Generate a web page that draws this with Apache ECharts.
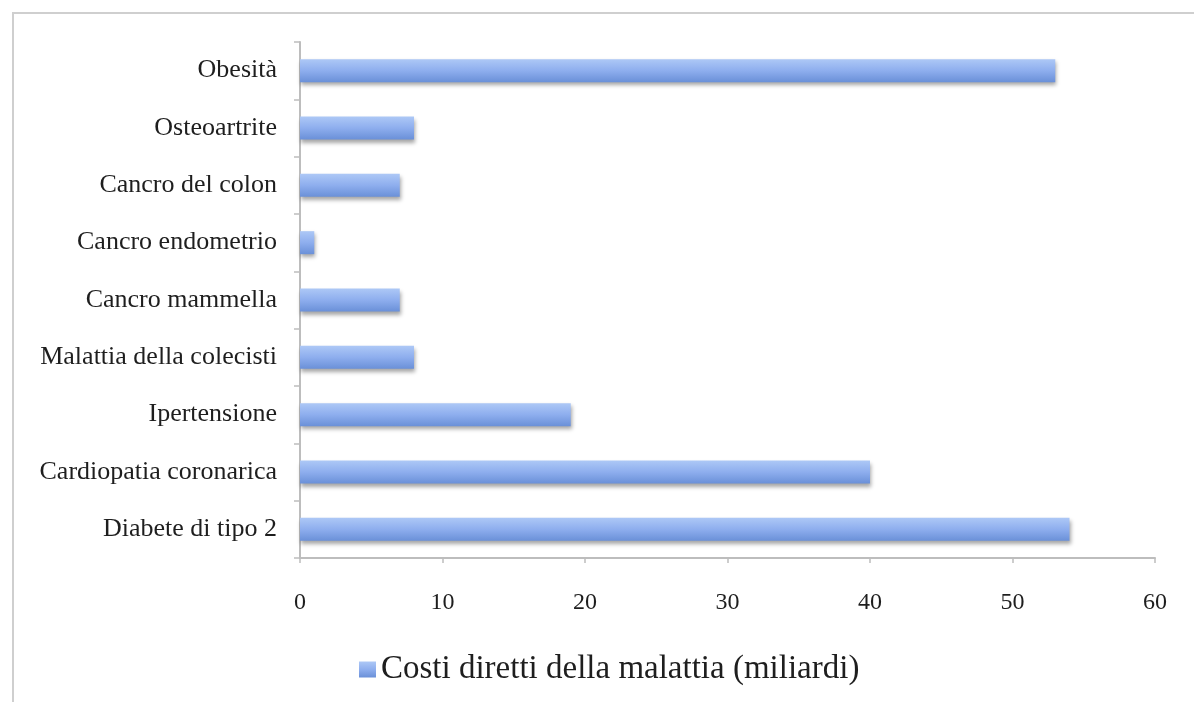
<!DOCTYPE html>
<html>
<head>
<meta charset="utf-8">
<script src="https://cdn.jsdelivr.net/npm/echarts@6/dist/echarts.min.js"></script>
<style>
html,body{margin:0;padding:0;background:#fff;}
#frame{position:absolute;left:12px;top:12px;width:1182px;height:690px;border-left:2px solid #cfcfcf;border-top:2px solid #cfcfcf;box-sizing:border-box;}
#chart{position:absolute;left:0;top:0;width:1194px;height:702px;}
</style>
</head>
<body>
<div id="frame"></div>
<div id="chart"></div>
<script>
var categories = ['Diabete di tipo 2','Cardiopatia coronarica','Ipertensione','Malattia della colecisti','Cancro mammella','Cancro endometrio','Cancro del colon','Osteoartrite','Obesità'];
var values = [54, 40, 19, 8, 7, 1, 7, 8, 53];
var seriesName = 'Costi diretti della malattia (miliardi)';
var xMin = 0, xMax = 60, xInterval = 10;

var chart = echarts.init(document.getElementById('chart'));
var font = 'Liberation Serif, Times New Roman, serif';
chart.setOption({
  animation: false,
  textStyle: {fontFamily: font},
  grid: {left: 300, right: 39, top: 42, bottom: 144, containLabel: false},
  legend: {
    data: [seriesName],
    bottom: 11,
    left: 354,
    itemWidth: 17,
    itemHeight: 16,
    itemGap: 6,
    textStyle: {fontFamily: font, fontSize: 33, color: '#1e1e1e'},
    icon: 'rect'
  },
  xAxis: {
    type: 'value',
    min: xMin, max: xMax, interval: xInterval,
    axisLine: {show: true, lineStyle: {color: '#bdbdbd', width: 2}},
    axisTick: {show: true, length: 5, lineStyle: {color: '#bdbdbd', width: 1.5}},
    splitLine: {show: false},
    axisLabel: {fontFamily: font, fontSize: 24, color: '#1e1e1e', margin: 33}
  },
  yAxis: {
    type: 'category',
    data: categories,
    axisLine: {show: true, lineStyle: {color: '#bdbdbd', width: 2}},
    axisTick: {show: true, length: 6, lineStyle: {color: '#bdbdbd', width: 1.5}},
    axisLabel: {fontFamily: font, fontSize: 26, color: '#1e1e1e', margin: 23}
  },
  series: [{
    name: seriesName,
    type: 'bar',
    data: values,
    barWidth: 23,
    itemStyle: {
      color: new echarts.graphic.LinearGradient(0, 0, 0, 1, [
        {offset: 0, color: '#adc8f6'},
        {offset: 0.5, color: '#8eaeee'},
        {offset: 1, color: '#6a90d8'}
      ]),
      shadowColor: 'rgba(0,0,0,0.35)',
      shadowBlur: 4,
      shadowOffsetY: 3,
      shadowOffsetX: 1
    }
  }]
});
</script>
</body>
</html>
